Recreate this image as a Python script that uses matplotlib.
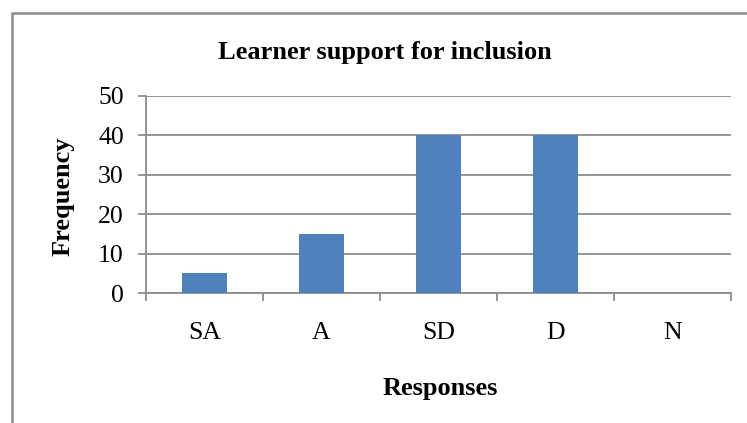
import matplotlib
matplotlib.use("Agg")
import matplotlib.pyplot as plt
from matplotlib.patches import Rectangle

categories = ["SA", "A", "SD", "D", "N"]
frequency = [5, 15, 40, 40, 0]
y_ticks = [0, 10, 20, 30, 40, 50]

plt.rcParams["font.family"] = ["Liberation Serif", "DejaVu Serif"]

W, H = 747, 423
fig = plt.figure(figsize = (W / 100, H / 100), dpi = 100)

# outer chart border (gray), only left and top fall inside the image
fig.patches.append(Rectangle((12 / W, -0.2), 1.2, 1.2 - 13 / H,
                             transform = fig.transFigure,
                             fill = False, edgecolor = "#8c8c8c",
                             linewidth = 1.8))

left, right, top, bottom = 146, 731, 96, 293
ax = fig.add_axes([left / W, 1 - bottom / H,
                   (right - left) / W, (bottom - top) / H])

x = list(range(len(categories)))
ax.bar(x, frequency, width = 0.39, color = "#4f81bd", zorder = 3)

ax.set_xlim(-0.5, len(categories) - 0.5)
ax.set_ylim(0, 50)
ax.set_yticks(y_ticks)
ax.yaxis.grid(True, color = "#8c8c8c", linewidth = 1.3, zorder = 0)

ax.set_xticks([i - 0.5 for i in range(len(categories) + 1)])
ax.set_xticklabels([])
ax.set_xticks(x, minor = True)
ax.set_xticklabels(categories, minor = True, fontsize = 18.5)
ax.tick_params(axis = "x", which = "major", length = 6,
               color = "#8c8c8c", width = 1.3)
ax.tick_params(axis = "x", which = "minor", length = 0, pad = 21)
ax.tick_params(axis = "y", length = 6, color = "#8c8c8c", width = 1.3,
               labelsize = 18.5, pad = 10)

for side in ["top", "right"]:
    ax.spines[side].set_visible(False)
for side in ["left", "bottom"]:
    ax.spines[side].set_color("#8c8c8c")
    ax.spines[side].set_linewidth(1.3)

fig.text(385 / W, 1 - 52 / H, "Learner support for inclusion",
         fontsize = 19, fontweight = "bold", ha = "center", va = "center")
fig.text(63 / W, 1 - 196 / H, "Frequency", fontsize = 19,
         fontweight = "bold", rotation = 90, ha = "center", va = "center")
fig.text(440 / W, 1 - 388 / H, "Responses", fontsize = 19,
         fontweight = "bold", ha = "center", va = "center")

fig.savefig("out.png", dpi = 100)
